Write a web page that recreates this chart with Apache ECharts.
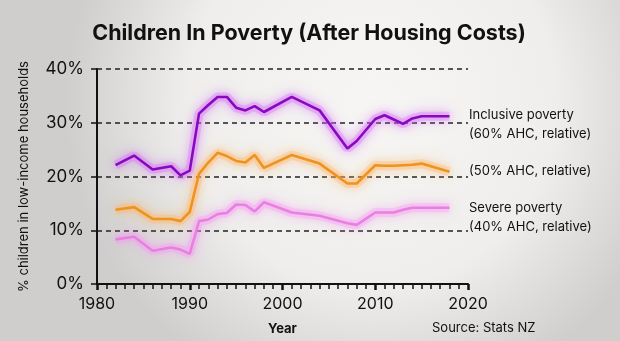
<!DOCTYPE html>
<html>
<head>
<meta charset="utf-8">
<script src="https://cdn.jsdelivr.net/npm/echarts@6/dist/echarts.min.js"></script>
<style>
html,body{margin:0;padding:0;}
#c{width:620px;height:341px;}
</style>
</head>
<body>
<div id="c"></div>
<script>
const years = [1982,1984,1986,1988,1989,1990,1991,1992,1993,1994,1995,1996,1997,1998,2001,2004,2007,2008,2010,2011,2012,2013,2014,2015,2016,2018];
const inclusive60 = [22.1,23.9,21.3,21.9,20.2,21.1,31.7,33.3,34.8,34.8,32.8,32.3,33.1,32.0,34.8,32.3,25.2,26.6,30.7,31.4,30.6,29.8,30.8,31.2,31.2,31.2];
const relative50 = [13.8,14.3,12.1,12.1,11.7,13.4,20.5,22.6,24.4,23.8,22.9,22.6,24.0,21.6,24.0,22.4,18.7,18.7,22.1,22.0,22.0,22.1,22.2,22.4,21.9,20.9];
const severe40 = [8.3,8.8,6.2,6.8,6.4,5.6,11.7,12.0,13.0,13.2,14.8,14.7,13.5,15.2,13.3,12.7,11.3,11.0,13.3,13.3,13.3,13.8,14.2,14.2,14.2,14.2];
const seriesNames = ['Inclusive poverty (60% AHC, relative)','(50% AHC, relative)','Severe poverty (40% AHC, relative)'];

const FONT = 'Inter, "Noto Sans", sans-serif';
const pair = arr => years.map((y,i)=>[y,arr[i]]);
const mk = (name, arr, color, glow) => ([
  {
    name: name + ' glow', type:'line', data: pair(arr), symbol:'none', z:2, silent:true,
    lineStyle:{color:glow, width:9, opacity:0.28, shadowBlur:14, shadowColor:glow},
    animation:false
  },
  {
    name, type:'line', data: pair(arr), symbol:'none', z:3,
    lineStyle:{color, width:2.6, shadowBlur:8, shadowColor:glow},
    animation:false
  }
]);

const chart = echarts.init(document.getElementById('c'));
chart.setOption({
  backgroundColor: {
    type:'radial', x:0.6, y:0.3, r:0.9,
    colorStops:[{offset:0,color:'#f7f6f4'},{offset:0.6,color:'#efeeec'},{offset:1,color:'#cfcecd'}]
  },
  animation:false,
  title:{
    text:'Children In Poverty (After Housing Costs)',
    left:304, top:18, textAlign:'center',
    textStyle:{fontFamily:FONT, fontWeight:'bold', fontSize:21.5, color:'#111'}
  },
  grid:{left:97, right:152, top:69, bottom:56},
  xAxis:{
    type:'value', min:1980, max:2020, interval:10,
    name:'Year', nameLocation:'middle', nameGap:39,
    nameTextStyle:{fontFamily:FONT, fontWeight:'bold', fontSize:13, color:'#111'},
    axisLine:{show:true, onZero:false, lineStyle:{color:'#111', width:2}},
    axisTick:{show:true, length:6, lineStyle:{color:'#111', width:2.5}},
    minorTick:{show:true, splitNumber:10, length:5, lineStyle:{color:'#111', width:1.5}},
    axisLabel:{fontFamily:FONT, fontSize:16, color:'#111', margin:12, formatter: v => String(v)},
    splitLine:{show:false}
  },
  yAxis:{
    type:'value', min:0, max:40, interval:10,
    name:'% children in low-income households', nameLocation:'middle', nameGap:66, nameRotate:90,
    nameTextStyle:{fontFamily:FONT, fontSize:13, color:'#111'},
    axisLine:{show:true, lineStyle:{color:'#111', width:2}},
    axisTick:{show:true, length:6, lineStyle:{color:'#111', width:1.5}},
    axisLabel:{fontFamily:FONT, fontSize:17, color:'#111', margin:13, formatter:'{value}%'},
    splitLine:{show:true, lineStyle:{color:'#222', width:1.5, type:[5,4]}}
  },
  series:[
    ...mk(seriesNames[0], inclusive60, '#8a08c2', 'rgba(210,100,245,1)'),
    ...mk(seriesNames[1], relative50, '#f0921e', 'rgba(252,178,100,1)'),
    ...mk(seriesNames[2], severe40, '#ea7fe2', 'rgba(244,150,240,1)')
  ],
  graphic:[
    {type:'text', left:469, top:106, style:{text:'Inclusive poverty\n(60% AHC, relative)', fontFamily:FONT, fontSize:13, lineHeight:18.5, fill:'#111'}},
    {type:'text', left:469, top:162, style:{text:'(50% AHC, relative)', fontFamily:FONT, fontSize:13, lineHeight:18.5, fill:'#111'}},
    {type:'text', left:469, top:199, style:{text:'Severe poverty\n(40% AHC, relative)', fontFamily:FONT, fontSize:13, lineHeight:18.5, fill:'#111'}},
    {type:'text', left:432, top:322, style:{text:'Source: Stats NZ', fontFamily:FONT, fontSize:13, fill:'#111'}}
  ]
});
</script>
</body>
</html>
